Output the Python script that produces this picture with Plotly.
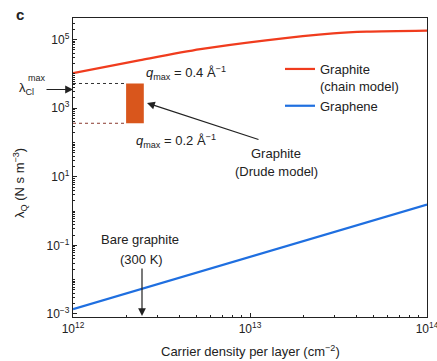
import plotly.graph_objects as go

# ---- data (log10 values) ----
red_logx = [12.0, 12.38, 12.72, 13.09, 13.47, 13.66, 14.0]
red_logy = [4.02, 4.40, 4.72, 4.98, 5.18, 5.23, 5.26]
blue_logx = [12.0, 13.0, 14.0]
blue_logy = [-2.86, -1.34, 0.19]
rect_logx = [12.30, 12.40]      # Drude model box (x extent)
rect_logy = [2.56, 3.72]        # q_max = 0.2 .. 0.4 A^-1
ytick_exp = [-3, -1, 1, 3, 5]
xtick_exp = [12, 13, 14]

W, H = 437, 361
L, R, T, B = 73, 10, 18, 44
pw, ph = W - L - R, H - T - B
def px(x):
    return (x - L) / pw
def py(y):
    return (H - B - y) / ph

FONT = "Liberation Sans, Arial, sans-serif"
RED = "#f03c1e"
BLUE = "#1f6fe0"
ORANGE = "#d9561c"

fig = go.Figure()
fig.add_trace(go.Scatter(x=[10**v for v in red_logx], y=[10**v for v in red_logy],
                         mode="lines", line=dict(color=RED, width=2.2, shape="spline", smoothing=0.8),
                         name="Graphite<br>(chain model)"))
fig.add_trace(go.Scatter(x=[10**v for v in blue_logx], y=[10**v for v in blue_logy],
                         mode="lines", line=dict(color=BLUE, width=2.2),
                         name="Graphene"))
# dotted guide lines
fig.add_trace(go.Scatter(x=[10**xtick_exp[0], 10**rect_logx[0]], y=[10**rect_logy[1]] * 2,
                         mode="lines", line=dict(color="#333333", width=1, dash="dot"),
                         showlegend=False, hoverinfo="skip"))
fig.add_trace(go.Scatter(x=[10**xtick_exp[0], 10**rect_logx[0]], y=[10**rect_logy[0]] * 2,
                         mode="lines", line=dict(color="#8a3a30", width=1, dash="dot"),
                         showlegend=False, hoverinfo="skip"))
# Drude box
rx = [rect_logx[0], rect_logx[1], rect_logx[1], rect_logx[0], rect_logx[0]]
ry = [rect_logy[0], rect_logy[0], rect_logy[1], rect_logy[1], rect_logy[0]]
fig.add_trace(go.Scatter(x=[10**v for v in rx], y=[10**v for v in ry], mode="lines",
                         fill="toself", fillcolor=ORANGE, line=dict(width=0, color=ORANGE),
                         showlegend=False, hoverinfo="skip"))

ann = []
def text(x, y, s, size=13, xanchor="center", **kw):
    ann.append(dict(xref="paper", yref="paper", x=px(x), y=py(y), text=s, showarrow=False,
                    xanchor=xanchor, yanchor="middle", font=dict(family=FONT, size=size, color="#222"), **kw))

def arrow(hx, hy, tx, ty):
    ann.append(dict(xref="paper", yref="paper", x=px(hx), y=py(hy), ax=tx - hx, ay=ty - hy,
                    text="", showarrow=True, arrowhead=2, arrowsize=1.3, arrowwidth=1.2,
                    arrowcolor="#222"))

text(20, 14, "<b>c</b>", size=15)
text(186, 73, "<i>q</i><sub>max</sub> = 0.4 Å<sup>−1</sup>")
text(176, 141, "<i>q</i><sub>max</sub> = 0.2 Å<sup>−1</sup>")
text(276, 153, "Graphite")
text(276, 171, "(Drude model)")
text(140, 240, "Bare graphite")
text(141, 259, "(300 K)")
text(26, 89, "λ<sub>Cl</sub>", size=13)
text(37, 78, "max", size=9)
text(250, 351, "Carrier density per layer (cm<sup>−2</sup>)")
ann.append(dict(xref="paper", yref="paper", x=px(20), y=py(183), text="λ<sub>Q</sub> (N s m<sup>−3</sup>)",
                showarrow=False, textangle=-90, xanchor="center", yanchor="middle",
                font=dict(family=FONT, size=13, color="#222")))
arrow(147, 103, 260, 140)
arrow(142, 316, 142, 267)
arrow(73, 89.5, 45, 89.5)

xminor = [m * 10**e for e in xtick_exp[:-1] for m in range(2, 10)]
yminor = [m * 10**e for e in range(-3, 6) for m in range(1, 10) if not (m == 1 and e in ytick_exp)]

fig.update_layout(
    width=W, height=H, margin=dict(l=L, r=R, t=T, b=B),
    paper_bgcolor="white", plot_bgcolor="white",
    font=dict(family=FONT, size=12, color="#222"),
    annotations=ann,
    legend=dict(x=px(280), y=py(54), xanchor="left", yanchor="top", bgcolor="rgba(0,0,0,0)",
                font=dict(family=FONT, size=13, color="#222"), valign="top",
                tracegroupgap=7, itemwidth=30),
)
fig.update_xaxes(type="log", range=[12, 14], showgrid=False, zeroline=False,
                 showline=True, linecolor="#222", linewidth=1.4, mirror=True,
                 ticks="inside", ticklen=4, tickcolor="#222",
                 tickvals=[10**e for e in xtick_exp],
                 ticktext=[f"10<sup>{e}</sup>" for e in xtick_exp],
                 ticklabeloverflow="allow",
                 minor=dict(tickmode="array", tickvals=xminor, ticks="inside", ticklen=2,
                            tickcolor="#222", showgrid=False),
                 tickfont=dict(family=FONT, size=12, color="#222"), automargin=False)
fig.update_yaxes(type="log", range=[-3.09, 5.63], showgrid=False, zeroline=False,
                 showline=True, linecolor="#222", linewidth=1.4, mirror=True,
                 ticks="inside", ticklen=4, tickcolor="#222",
                 tickvals=[10**e for e in ytick_exp],
                 ticktext=[f"10<sup>{e}</sup>".replace("-", "−") for e in ytick_exp],
                 ticklabeloverflow="allow",
                 minor=dict(tickmode="array", tickvals=yminor, ticks="inside", ticklen=2,
                            tickcolor="#222", showgrid=False),
                 tickfont=dict(family=FONT, size=12, color="#222"), automargin=False)

fig.write_html("out.html", config={"displayModeBar": False},
               post_script="document.body.style.margin='0';document.body.style.overflow='hidden';")
